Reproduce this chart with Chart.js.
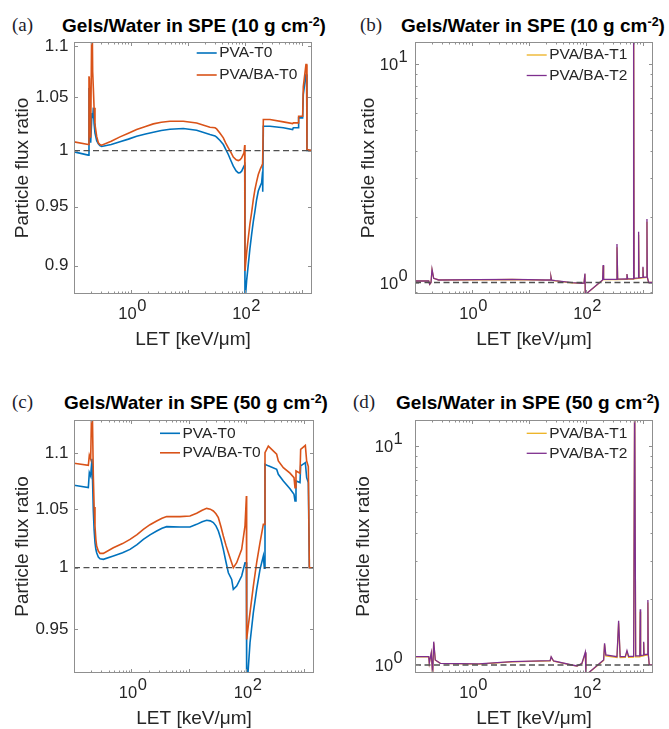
<!DOCTYPE html>
<html>
<head>
<meta charset="utf-8">
<script src="https://cdn.jsdelivr.net/npm/chart.js@4.4.1/dist/chart.umd.min.js"></script>
<style>
  html, body { margin: 0; padding: 0; background: #fff; }
  body { width: 669px; height: 729px; position: relative; overflow: hidden; font-family: 'Liberation Sans', Arial, sans-serif; }
  canvas { position: absolute; }
  .ttl { position: absolute; width: 400px; text-align: center; font-weight: bold; font-size: 19px; line-height: 1; color: #000; white-space: nowrap; }
  .ttl sup { font-size: 12.5px; line-height: 0; vertical-align: baseline; position: relative; top: -6px; }
  .tag { position: absolute; font-family: 'Liberation Serif', 'Times New Roman', serif; font-size: 19px; line-height: 1; color: #1c1c2c; }
</style>
</head>
<body>
<div class="tag" style="left:12px;top:15px">(a)</div>
<div class="ttl" style="left:-6px;top:15.6px">Gels/Water in SPE (10 g cm<sup>-2</sup>)</div>
<div class="tag" style="left:360px;top:15px">(b)</div>
<div class="ttl" style="left:333px;top:15.6px">Gels/Water in SPE (10 g cm<sup>-2</sup>)</div>
<div class="tag" style="left:12px;top:392px">(c)</div>
<div class="ttl" style="left:-4px;top:393.2px">Gels/Water in SPE (50 g cm<sup>-2</sup>)</div>
<div class="tag" style="left:353px;top:392px">(d)</div>
<div class="ttl" style="left:328px;top:393.2px">Gels/Water in SPE (50 g cm<sup>-2</sup>)</div>

<canvas id="pa" width="335" height="365" style="left:0;top:0"></canvas>
<canvas id="pb" width="334" height="365" style="left:335px;top:0"></canvas>
<canvas id="pc" width="335" height="365" style="left:0;top:364px"></canvas>
<canvas id="pd" width="334" height="365" style="left:335px;top:364px"></canvas>

<script>
// ---- panel (a): SPE at 10 g cm-2, T0 gels
const letA = [0.1, 0.178, 0.1832, 0.1858, 0.1961, 0.2069, 0.2126, 0.2184, 0.225, 0.2336, 0.25, 0.2673, 0.285, 0.3058,
  0.45, 0.641, 0.9, 1.257, 1.8, 2.465, 3.4, 4.83, 8.28, 14.19, 24.3, 29.8, 31.8, 36.5, 41.7, 46, 51.0, 57, 62.4,
  70, 76.4, 82, 87.4, 96, 99, 100, 107, 114.4, 122, 130.9, 140, 149.7, 160, 171.3, 185, 196, 204, 205,
  210, 275, 471, 686, 705, 862, 874, 1028, 1055, 1175, 1208, 1224, 1497];
const pvaA = [0.9988, 0.9958, 1.059, 1.056, 1.0071, 1.035, 1.030, 1.040, 1.025, 1.016, 1.009, 1.0061, 1.0045, 1.0037,
  1.0055, 1.0080, 1.0105, 1.0132, 1.0152, 1.0169, 1.0185, 1.0197, 1.0203, 1.0188, 1.0148, 1.0135, 1.0123, 1.0092, 1.0055, 1.0010, 0.9964, 0.9905, 0.9858,
  0.9815, 0.9798, 0.9800, 0.9813, 0.9858, 0.9870, 0.8700, 0.8880, 0.9011, 0.9140, 0.9261, 0.9370, 0.9461, 0.9560, 0.9636, 0.9680, 0.9709, 0.9810, 0.9630,
  1.0225, 1.0225, 1.0210, 1.0194, 1.0210, 1.0210, 1.0303, 1.0303, 1.0525, 1.0719, 1.0719, 1.0000, 1.0000];
const pvabaA = [1.0080, 1.0055, 1.0703, 1.068, 1.0117, 1.15, 1.075, 1.059, 1.040, 1.024, 1.013, 1.0071, 1.0055, 1.0049,
  1.0085, 1.0126, 1.0160, 1.0194, 1.0222, 1.0247, 1.0262, 1.0272, 1.0272, 1.0256, 1.0216, 1.0210, 1.0200, 1.0160, 1.0117, 1.0068, 1.0025, 0.9980, 0.9940,
  0.9915, 0.9909, 0.9915, 0.9933, 0.9979, 1.0050, 0.8957, 0.9110, 0.9233, 0.9350, 0.9450, 0.9560, 0.9650, 0.9720, 0.9783, 0.9830, 0.9858, 0.9880, 0.9880,
  1.0288, 1.0288, 1.0266, 1.0250, 1.0256, 1.0256, 1.0319, 1.0319, 1.0600, 1.0818, 1.0818, 1.0009, 1.0000];

// ---- panel (c): SPE at 50 g cm-2, T0 gels
const letC = [0.1, 0.1776, 0.1848, 0.1950, 0.2057, 0.2170, 0.2240, 0.2319, 0.2400, 0.2480, 0.2650, 0.2835, 0.3240,
  0.4836, 0.70, 0.943, 1.25, 1.609, 2.1, 2.745, 3.4, 4.098, 6.99, 10.43, 13.63, 17, 20.35, 23.5, 26.58, 29.5, 32.48,
  36, 39.68, 44, 48.5, 55.4, 59.2, 67.7, 82.7, 94.5, 100, 101, 108, 115.5, 132, 150.8, 172.4, 197, 205,
  210.6, 240.7, 336, 359, 439, 573, 673, 701, 729, 856, 879, 1060, 1118, 1195, 1245, 1500];
const pvaC = [1.0711, 1.0690, 1.0825, 1.0795, 1.095, 1.0484, 1.032, 1.0211, 1.0155, 1.0126, 1.0090, 1.0075, 1.0070,
  1.0098, 1.0125, 1.0154, 1.0195, 1.0239, 1.0278, 1.0311, 1.0335, 1.0348, 1.0345, 1.0345, 1.0368, 1.0390, 1.0403, 1.0398, 1.0383, 1.0355, 1.0311,
  1.0240, 1.0154, 1.0050, 0.9958, 0.9903, 0.9821, 0.9848, 0.9931, 1.0042, 1.0042, 0.900, 0.920, 0.9394, 0.9632, 0.9821, 0.9986, 1.0098, 0.9995,
  1.0901, 1.0886, 1.0855, 1.0810, 1.0750, 1.0680, 1.0631, 1.0572, 1.0750, 1.0735, 1.0886, 1.0915, 1.0780, 1.0735, 1.0, 1.0];
const pvabaC = [1.0909, 1.0891, 1.0982, 1.0946, 1.16, 1.0795, 1.052, 1.0354, 1.0240, 1.0182, 1.0140, 1.0120, 1.0120,
  1.0168, 1.0203, 1.0239, 1.0280, 1.0325, 1.0365, 1.0397, 1.0420, 1.0435, 1.0435, 1.0440, 1.0464, 1.0490, 1.0507, 1.0500, 1.0484, 1.0460, 1.0426,
  1.0350, 1.0268, 1.0190, 1.0126, 1.0042, 1.0000, 1.0042, 1.0154, 1.0354, 1.0616, 0.9420, 0.9530, 0.9632, 0.9848, 1.0042, 1.0211, 1.0368, 1.0368,
  1.1007, 1.1067, 1.0992, 1.0930, 1.0870, 1.0820, 1.0780, 1.0690, 1.0840, 1.0820, 1.1037, 1.1073, 1.0930, 1.0880, 1.0, 1.0];

// ---- panel (b): SPE at 10 g cm-2, T1 / T2 gels
const letB = [0.1, 0.174, 0.181, 0.191, 0.199, 0.213, 0.26, 1.31, 5.04, 19.4, 23.5, 24.3, 25.0, 29.0, 56.8, 85, 92.3, 96, 97.3,
  196, 200, 204, 340, 350, 360, 510, 524, 538, 670, 686, 700, 825, 839, 853, 985, 1000, 1015, 1160, 1175, 1190, 1258, 1500];
const t1B = [1.016, 1.016, 0.981, 1.00, 1.14, 1.045, 1.027, 1.029, 1.032, 1.026, 1.026, 1.060, 1.024, 1.018, 0.997, 0.990, 0.994, 1.09, 0.88,
  1.025, 1.19, 1.030, 1.030, 1.45, 1.032, 1.034, 1.09, 1.036, 1.036, 18, 1.040, 1.045, 1.65, 1.046, 1.050, 1.17, 1.052, 1.055, 1.90, 1.055, 1.0, 1.0];
const t2B = [1.016, 1.016, 0.981, 1.00, 1.15, 1.045, 1.027, 1.030, 1.034, 1.027, 1.027, 1.063, 1.025, 1.019, 0.998, 0.991, 0.995, 1.10, 0.88,
  1.027, 1.203, 1.034, 1.034, 1.50, 1.036, 1.038, 1.094, 1.040, 1.040, 20, 1.045, 1.05, 1.71, 1.05, 1.055, 1.18, 1.057, 1.06, 1.955, 1.06, 1.0, 1.0];

// ---- panel (d): SPE at 50 g cm-2, T1 / T2 gels
const letD = [0.1, 0.174, 0.178, 0.193, 0.204, 0.213, 0.227, 0.278, 1.31, 5.04, 23.5, 24.5, 27.0, 56.8, 69.7, 85, 97.3, 100,
  204, 212, 223, 350, 374, 398, 489, 524, 560, 686, 715, 745, 880, 895, 910, 1015, 1030, 1045, 1200, 1220, 1240, 1290, 1500];
const t1D = [1.090, 1.090, 1.017, 1.13, 0.90, 1.26, 1.052, 1.017, 1.010, 1.034, 1.044, 1.085, 1.041, 0.999, 0.989, 1.016, 1.13, 0.90,
  1.050, 1.24, 1.100, 1.082, 1.55, 1.082, 1.083, 1.15, 1.085, 1.086, 18, 1.090, 1.090, 1.75, 1.095, 1.100, 1.26, 1.105, 1.110, 1.93, 1.110, 1.0, 1.0];
const t2D = [1.092, 1.092, 1.018, 1.138, 0.90, 1.278, 1.054, 1.018, 1.011, 1.036, 1.046, 1.090, 1.043, 1.000, 0.990, 1.018, 1.143, 0.90,
  1.054, 1.256, 1.111, 1.092, 1.594, 1.092, 1.092, 1.163, 1.095, 1.095, 20, 1.100, 1.100, 1.796, 1.105, 1.110, 1.278, 1.115, 1.120, 1.982, 1.120, 1.0, 1.0];

// water reference (ratio = 1) and tick labels
const refLet = [0.1, 1500];
const refRatio = [1, 1];
const xLabelTicks = [1, 100];
const yLabelsA = [0.9, 0.95, 1, 1.05, 1.1];
const yLabelsC = [0.95, 1, 1.05, 1.1];
const yLabelsLog = [1, 10];

const BLUE = '#0072BD', ORANGE = '#D95319', YELLOW = '#EDB120', PURPLE = '#7E2F8E';
const TEXT = '#262626', AXIS = '#8f8f8f';
const FONT = "'Liberation Sans', Arial, Helvetica, sans-serif";

const pts = (xs, ys) => xs.map((v, i) => ({ x: v, y: ys[i] }));

// 1..9 x 10^n inside [lo, hi]
function logMinor(lo, hi) {
  const out = [];
  for (let e = Math.floor(Math.log10(lo)); e <= Math.ceil(Math.log10(hi)); e++) {
    for (let m = 1; m <= 9; m++) {
      const v = m * Math.pow(10, e);
      if (v >= lo && v <= hi) out.push(v);
    }
  }
  return out;
}
const xAll = logMinor(0.1, 1500);
const xMajor = xAll.filter(v => Math.abs(Math.log10(v) - Math.round(Math.log10(v))) < 1e-9);
const xMinor = xAll.filter(v => !xMajor.includes(v));

// box + inward ticks on all four sides (MATLAB style)
const framePlugin = {
  id: 'frame',
  afterDatasetsDraw(chart) {
    const o = chart.options.plugins.frame;
    const { ctx, chartArea: a, scales: { x, y } } = chart;
    ctx.save();
    ctx.strokeStyle = AXIS;
    ctx.lineWidth = 1;
    ctx.setLineDash([]);
    ctx.beginPath();
    const tx = (vals, len) => vals.forEach(v => {
      const p = Math.round(x.getPixelForValue(v)) + 0.5;
      ctx.moveTo(p, a.bottom); ctx.lineTo(p, a.bottom - len);
      ctx.moveTo(p, a.top); ctx.lineTo(p, a.top + len);
    });
    const ty = (vals, len) => vals.forEach(v => {
      const p = Math.round(y.getPixelForValue(v)) + 0.5;
      ctx.moveTo(a.left, p); ctx.lineTo(a.left + len, p);
      ctx.moveTo(a.right, p); ctx.lineTo(a.right - len, p);
    });
    tx(xMajor, 4); tx(xMinor, 2.5);
    ty(o.yMajor, 4); ty(o.yMinor, 2.5);
    ctx.stroke();
    ctx.strokeRect(Math.round(a.left) + 0.5, Math.round(a.top) + 0.5,
      Math.round(a.right) - Math.round(a.left) - 1, Math.round(a.bottom) - Math.round(a.top) - 1);
    ctx.restore();
  }
};

// 10^n labels with raised exponent
const expLabels = {
  id: 'expLabels',
  afterDraw(chart) {
    const o = chart.options.plugins.expLabels;
    const { ctx, chartArea: a, scales: { x, y } } = chart;
    const base = `16.5px ${FONT}`, sup = `11.5px ${FONT}`;
    ctx.save();
    ctx.fillStyle = TEXT;
    ctx.textAlign = 'left';
    ctx.textBaseline = 'alphabetic';
    const wOf = (t, f) => { ctx.font = f; return ctx.measureText(t).width; };
    const put = (e, left, baseY) => {
      ctx.font = base; ctx.fillText('10', left, baseY);
      ctx.font = sup; ctx.fillText(String(e), left + wOf('10', base) + 0.5, baseY - 8);
    };
    const full = e => wOf('10', base) + 0.5 + wOf(String(e), sup);
    xLabelTicks.forEach(v => {
      const e = Math.round(Math.log10(v));
      put(e, x.getPixelForValue(v) - full(e) / 2, a.bottom + 25);
    });
    if (o.y) {
      yLabelsLog.forEach(v => {
        const e = Math.round(Math.log10(v));
        put(e, a.left - o.yGap - full(e), y.getPixelForValue(v) + 6);
      });
    }
    ctx.restore();
  }
};

// legend without box, inside the axes
const insetLegend = {
  id: 'inset',
  afterDatasetsDraw(chart) {
    const o = chart.options.plugins.inset;
    const ctx = chart.ctx;
    ctx.save();
    ctx.font = `15.5px ${FONT}`;
    ctx.textBaseline = 'middle';
    ctx.textAlign = 'left';
    ctx.fillStyle = TEXT;
    chart.data.datasets.filter(d => d.label).forEach((d, i) => {
      const yy = o.y + i * o.rowH;
      ctx.strokeStyle = d.borderColor;
      ctx.lineWidth = d.borderWidth;
      ctx.setLineDash([]);
      ctx.beginPath(); ctx.moveTo(o.x, yy); ctx.lineTo(o.x + 20, yy); ctx.stroke();
      ctx.fillText(d.label, o.x + 22.5, yy);
    });
    ctx.restore();
  }
};

function makePanel(id, p) {
  const lines = p.series.map((s, i) => ({
    label: s.label,
    data: pts(s.xs, s.ys),
    borderColor: s.color,
    backgroundColor: s.color,
    borderWidth: p.lw,
    showLine: true,
    pointRadius: 0,
    order: p.series.length + 1 - i
  }));
  lines.push({
    label: '',
    data: pts(refLet, refRatio),
    borderColor: '#505050',
    borderWidth: 1.3,
    borderDash: [6, 3.5],
    showLine: true,
    pointRadius: 0,
    order: 0
  });
  return new Chart(document.getElementById(id), {
    type: 'scatter',
    data: { datasets: lines },
    options: {
      responsive: false,
      animation: false,
      events: [],
      layout: { padding: p.padding },
      plugins: {
        legend: { display: false },
        tooltip: { enabled: false },
        inset: p.legend,
        frame: { yMajor: p.yMajor, yMinor: p.yMinor },
        expLabels: { y: !p.yLabels, yGap: p.yGap }
      },
      scales: {
        x: {
          type: 'logarithmic', min: 0.1, max: 1500, position: 'bottom',
          grid: { display: false, drawTicks: false }, border: { display: false },
          ticks: { display: false },
          title: { display: true, text: 'LET [keV/μm]', color: TEXT,
                   font: { family: FONT, size: 19, lineHeight: 1 }, padding: { top: 0, bottom: p.xTitlePad } },
          afterFit: s => { s.height = p.xHeight; s.paddingLeft = 0; s.paddingRight = 0; }
        },
        y: {
          type: 'logarithmic', min: p.yMin, max: p.yMax, position: 'left',
          grid: { display: false, drawTicks: false }, border: { display: false },
          ticks: { display: !!p.yLabels, autoSkip: false, padding: 5.5, color: TEXT,
                   font: { family: FONT, size: 17 }, callback: v => String(v) },
          afterBuildTicks: s => { s.ticks = (p.yLabels || []).map(v => ({ value: v })); },
          title: { display: true, text: 'Particle flux ratio', color: TEXT,
                   font: { family: FONT, size: 19, lineHeight: 1 }, padding: { top: p.yTitlePad, bottom: 0 } },
          afterFit: s => { s.width = p.yWidth; s.paddingTop = 0; s.paddingBottom = 0; }
        }
      }
    },
    plugins: [framePlugin, expLabels, insetLegend]
  });
}

const logYB = logMinor(0.8857, 12.68);
const logYD = logMinor(0.9194, 13.14);

makePanel('pa', {
  series: [{ label: 'PVA-T0', xs: letA, ys: pvaA, color: BLUE },
           { label: 'PVA/BA-T0', xs: letA, ys: pvabaA, color: ORANGE }],
  lw: 1.6, yMin: 0.877, yMax: 1.1044, yLabels: yLabelsA,
  yMajor: yLabelsA, yMinor: [],
  padding: { left: 0, top: 42, right: 23, bottom: 0 },
  yWidth: 74, xHeight: 71, xTitlePad: 15.5, yTitlePad: 12.8,
  legend: { x: 196.7, y: 53, rowH: 22 }
});

makePanel('pb', {
  series: [{ label: 'PVA/BA-T1', xs: letB, ys: t1B, color: YELLOW },
           { label: 'PVA/BA-T2', xs: letB, ys: t2B, color: PURPLE }],
  lw: 1.3, yMin: 0.8857, yMax: 12.68, yLabels: null, yGap: 10,
  yMajor: yLabelsLog, yMinor: logYB.filter(v => !yLabelsLog.includes(v)),
  padding: { left: 0, top: 42, right: 16, bottom: 0 },
  yWidth: 80, xHeight: 71, xTitlePad: 15.5, yTitlePad: 24.5,
  legend: { x: 191.7, y: 55, rowH: 20.5 }
});

makePanel('pc', {
  series: [{ label: 'PVA-T0', xs: letC, ys: pvaC, color: BLUE },
           { label: 'PVA/BA-T0', xs: letC, ys: pvabaC, color: ORANGE }],
  lw: 1.6, yMin: 0.916, yMax: 1.131, yLabels: yLabelsC,
  yMajor: yLabelsC, yMinor: [],
  padding: { left: 0, top: 56, right: 21, bottom: 0 },
  yWidth: 74, xHeight: 56, xTitlePad: 0.5, yTitlePad: 12.8,
  legend: { x: 160, y: 69.3, rowH: 19.5 }
});

makePanel('pd', {
  series: [{ label: 'PVA/BA-T1', xs: letD, ys: t1D, color: YELLOW },
           { label: 'PVA/BA-T2', xs: letD, ys: t2D, color: PURPLE }],
  lw: 1.3, yMin: 0.9194, yMax: 13.14, yLabels: null, yGap: 15,
  yMajor: yLabelsLog, yMinor: logYD.filter(v => !yLabelsLog.includes(v)),
  padding: { left: 0, top: 56, right: 16, bottom: 0 },
  yWidth: 80, xHeight: 56, xTitlePad: 0.5, yTitlePad: 18.8,
  legend: { x: 191.7, y: 69.3, rowH: 20 }
});
</script>
</body>
</html>
